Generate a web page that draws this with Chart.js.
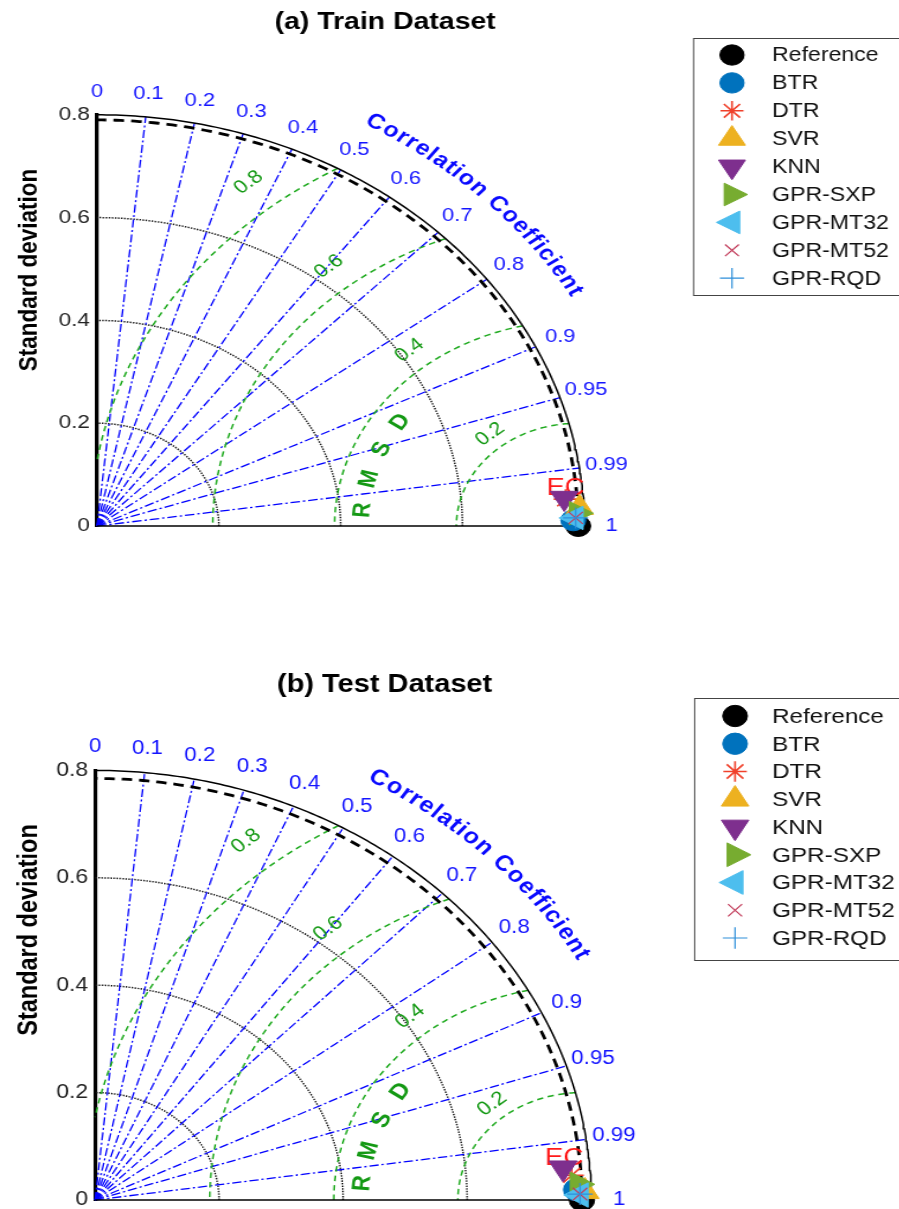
<!DOCTYPE html>
<html><head><meta charset="utf-8">
<script src="https://cdn.jsdelivr.net/npm/chart.js"></script>
<style>
html,body{margin:0;padding:0;background:#fff;overflow:hidden;width:899px;height:1209px;}
.panel{position:absolute;left:0;transform-origin:0 0;}
canvas{display:block;}
</style></head><body>
<div id="p1" class="panel" style="top:0px"><canvas id="c1"></canvas></div>
<div id="p2" class="panel" style="top:640px"><canvas id="c2"></canvas></div>
<script>
// ---------------- data ----------------
const modelNames = ['BTR','DTR','SVR','KNN','GPR-SXP','GPR-MT32','GPR-MT52','GPR-RQD'];
const trainRefStd = 0.79;
const trainStd  = [0.782, 0.771, 0.793, 0.769, 0.789, 0.785, 0.786, 0.786];
const trainCorr = [0.9999, 0.9977, 0.9990, 0.9975, 0.9995, 0.9998, 0.9998, 0.9998];
const testRefStd = 0.785;
const testStd  = [0.776, 0.770, 0.790, 0.757, 0.780, 0.782, 0.782, 0.782];
const testCorr = [0.9997, 0.9982, 0.9998, 0.9969, 0.9993, 0.99993, 0.9999, 0.9999];
const corrTicks = [0, 0.1, 0.2, 0.3, 0.4, 0.5, 0.6, 0.7, 0.8, 0.9, 0.95, 0.99, 1];
const stdTicks = [0, 0.2, 0.4, 0.6, 0.8];
const stdGridArcs = [0.2, 0.4, 0.6];
const rmsdTicks = [0.2, 0.4, 0.6, 0.8];
const stdMax = 0.8;

// ---------------- styles ----------------
const FONT = "'Liberation Sans', Arial, Helvetica, sans-serif";
const refStyle = {pointStyle:'circle', rotation:0, radius:10.5, bg:'#000000', border:'#000000', bw:1};
const modelStyles = [
  {pointStyle:'circle',   rotation:0,   radius:10.5, bg:'#0072BD', border:'#0072BD', bw:1},
  {pointStyle:'star',     rotation:0,   radius:10, bg:'rgba(0,0,0,0)', border:'#F0402A', bw:1.6},
  {pointStyle:'triangle', rotation:0,   radius:13.5, bg:'#EDB120', border:'#EDB120', bw:1},
  {pointStyle:'triangle', rotation:180, radius:13.5, bg:'#7E2F8E', border:'#7E2F8E', bw:1},
  {pointStyle:'triangle', rotation:90,  radius:13.5, bg:'#77AC30', border:'#77AC30', bw:1},
  {pointStyle:'triangle', rotation:270, radius:13.5, bg:'#4DBEEE', border:'#4DBEEE', bw:1},
  {pointStyle:'crossRot', rotation:0,   radius:8.5,  bg:'rgba(0,0,0,0)', border:'#C23B5A', bw:1.2},
  {pointStyle:'cross',    rotation:0,   radius:10.5, bg:'rgba(0,0,0,0)', border:'#2E8FDA', bw:1.2}
];
const modelOrder = [8, 7, 5, 6, 4, 3, 2, 1];

const DEG = Math.PI / 180;
function polar(r, deg) { return {x: r * Math.cos(deg * DEG), y: r * Math.sin(deg * DEG)}; }
function arcPts(cx, r, a0, a1, n) {
  const pts = [];
  for (let i = 0; i <= n; i++) {
    const a = a0 + (a1 - a0) * i / n;
    pts.push({x: cx + r * Math.cos(a * DEG), y: r * Math.sin(a * DEG)});
  }
  return pts;
}
function lineDs(pts, o) {
  return {data: pts, showLine: true, pointRadius: 0, pointHoverRadius: 0, borderColor: o.color,
          borderWidth: o.width, borderDash: o.dash, fill: false, tension: 0, order: o.order, clip: false, label: '_grid'};
}

function buildDatasets(refStd, stds, corrs, fs) {
  const ds = [];
  stdGridArcs.forEach(r => ds.push(lineDs(arcPts(0, r, 0, 90, 120), {color:'#1a1a1a', width:1.5, dash:[1.4,1.2], order:110})));
  corrTicks.filter(c => c > 0 && c < 1).forEach(c => {
    const a = Math.acos(c) / DEG;
    ds.push(lineDs([{x:0, y:0}, polar(stdMax, a)], {color:'#0000ff', width:1.3, dash:[8,2.5,2,2.5], order:109}));
  });
  rmsdTicks.forEach(R => {
    const xi = (stdMax * stdMax - R * R + refStd * refStd) / (2 * refStd);
    const a0 = Math.acos(Math.max(-1, Math.min(1, (xi - refStd) / R))) / DEG;
    const a1 = R > refStd ? Math.acos(-refStd / R) / DEG : 180;
    ds.push(lineDs(arcPts(refStd, R, a0, a1, 100), {color:'#1faa1f', width:1.5, dash:[5.5,4], order:108}));
  });
  ds.push(lineDs(arcPts(0, stdMax, 0, 90, 160), {color:'#000000', width:1.5, dash:[], order:106}));
  ds.push(lineDs(arcPts(0, refStd, 0, 90, 160), {color:'#000000', width:2.8, dash:[9,6], order:105}));
  ds.push(lineDs([{x:0, y:0}, {x:stdMax, y:0}], {color:'#000000', width:1.6, dash:[], order:104}));
  // reference point
  ds.push({label:'Reference', data:[{x:refStd, y:0}], showLine:false, pointStyle:refStyle.pointStyle,
           pointRadius:refStyle.radius*fs, pointRotation:0, backgroundColor:refStyle.bg, borderColor:refStyle.border,
           borderWidth:refStyle.bw, order:9, clip:false});
  modelNames.forEach((name, i) => {
    const st = modelStyles[i];
    const c = corrs[i], s = stds[i];
    ds.push({label:name, data:[{x: s * c, y: s * Math.sqrt(1 - c * c)}], showLine:false,
             pointStyle: st.pointStyle, pointRadius: st.radius*fs, pointRotation: st.rotation,
             backgroundColor: st.bg, borderColor: st.border, borderWidth: st.bw, order: modelOrder[i], clip:false});
  });
  return ds;
}

function drawMarker(ctx, st, x, y, fs) {
  ctx.save();
  ctx.fillStyle = st.bg; ctx.strokeStyle = st.border; ctx.lineWidth = st.bw;
  const H = (window.Chart && Chart.helpers) ? Chart.helpers : null;
  if (H && H.drawPoint) {
    H.drawPoint(ctx, {pointStyle: st.pointStyle, radius: st.radius*fs, rotation: st.rotation, borderWidth: st.bw}, x, y);
  } else {
    ctx.beginPath(); ctx.arc(x, y, st.radius*fs, 0, 2*Math.PI); ctx.fill(); ctx.stroke();
  }
  ctx.restore();
}

function decorPlugin(p) {
  return {
    id: 'decor_' + p.canvas,
    beforeDatasetDraw(chart, args) {
      const ds = chart.data.datasets[args.index];
      if (ds.label === 'KNN') {
        const el = args.meta.data[0];
        const ctx = chart.ctx;
        ctx.save();
        ctx.fillStyle = '#ff1a1a';
        ctx.font = (23*p.fs) + 'px ' + FONT;
        ctx.textAlign = 'left'; ctx.textBaseline = 'middle';
        ctx.fillText('EC', el.x - 15*p.fs, el.y - 9*p.fs);
        ctx.restore();
      }
    },
    afterDraw(chart) {
      const ctx = chart.ctx, xs = chart.scales.x, ys = chart.scales.y;
      const P = (x, y) => ({x: xs.getPixelForValue(x), y: ys.getPixelForValue(y)});
      const fs = p.fs;
      ctx.save();
      // title
      ctx.fillStyle = '#000';
      ctx.font = 'bold ' + (24*fs) + 'px ' + FONT;
      ctx.textAlign = 'center'; ctx.textBaseline = 'middle';
      ctx.fillText(p.title, p.titleX, p.titleY);
      // y title
      ctx.save();
      ctx.translate(p.yTitleX, p.yTitleY); ctx.rotate(-Math.PI/2);
      ctx.font = 'bold ' + (22.5*fs) + 'px ' + FONT;
      ctx.fillText('Standard deviation', 0, 0);
      ctx.restore();
      // correlation tick labels
      ctx.fillStyle = '#1414ff';
      ctx.font = (18.5*fs) + 'px ' + FONT;
      corrTicks.forEach(c => {
        const q = polar(0.845, Math.acos(c) / DEG);
        const pt = P(q.x, q.y);
        ctx.fillText(String(c), pt.x, pt.y);
      });
      // curved "Correlation Coefficient"
      const txt = 'Correlation Coefficient';
      ctx.font = 'bold ' + (21*fs) + 'px ' + FONT;
      ctx.fillStyle = '#0a0aff';
      const ws = [...txt].map(ch => ctx.measureText(ch).width);
      const cents = []; let acc = 0;
      ws.forEach(w => { cents.push(acc + w/2); acc += w; });
      const c0 = cents[0], c1 = cents[cents.length-1];
      const th0 = 59.8, th1 = 30.2;
      [...txt].forEach((ch, i) => {
        const th = th0 - (th0 - th1) * (cents[i] - c0) / (c1 - c0);
        const q = polar(0.908, th);
        const pt = P(q.x, q.y);
        ctx.save(); ctx.translate(pt.x, pt.y); ctx.rotate((90 - th) * DEG);
        ctx.fillText(ch, 0, 0); ctx.restore();
      });
      // RMSD value labels
      ctx.fillStyle = '#149914';
      ctx.font = (18.5*fs) + 'px ' + FONT;
      rmsdTicks.forEach(v => {
        const rl = v * 1.05 + 0.02, ph = 129;
        const pt = P(p.refStd + rl * Math.cos(ph*DEG), rl * Math.sin(ph*DEG));
        ctx.save(); ctx.translate(pt.x, pt.y); ctx.rotate((90 - ph) * DEG);
        ctx.fillText(String(v), 0, 0); ctx.restore();
      });
      // RMSD letters
      ctx.font = 'bold ' + (21*fs) + 'px ' + FONT;
      ['R','M','S','D'].forEach((ch, i) => {
        const ph = 175 - i * 9.9, rl = 0.355;
        const pt = P(p.refStd + rl * Math.cos(ph*DEG), rl * Math.sin(ph*DEG));
        ctx.save(); ctx.translate(pt.x, pt.y); ctx.rotate((90 - ph) * DEG);
        ctx.fillText(ch, 0, 0); ctx.restore();
      });
      // legend
      const L = p.legend;
      ctx.strokeStyle = '#444'; ctx.lineWidth = 1;
      ctx.fillStyle = '#fff';
      ctx.fillRect(L.left, L.top, chart.width - L.left + 20, L.bottom - L.top);
      ctx.strokeRect(L.left + 0.5, L.top + 0.5, chart.width - L.left + 20, L.bottom - L.top);
      const names = ['Reference'].concat(modelNames);
      const styles = [refStyle].concat(modelStyles);
      names.forEach((n, i) => {
        const y = L.y0 + i * L.dy;
        drawMarker(ctx, styles[i], L.mx, y, fs * 0.97);
        ctx.fillStyle = '#111';
        ctx.font = L.font + 'px ' + FONT;
        ctx.textAlign = 'left'; ctx.textBaseline = 'middle';
        ctx.fillText(n, L.tx, y + 1);
      });
      ctx.restore();
    }
  };
}

const panels = [
  {canvas:'c1', wrap:'p1', k:1.185, H:600, originXPage:97, originY:526, s:514,
   refStd:trainRefStd, stds:trainStd, corrs:trainCorr, title:'(a) Train Dataset',
   titleX:325, titleY:22, yTitleX:25, yTitleY:270, fs:1,
   legend:{left:584.8, mx:617.7, tx:651.5, top:38, bottom:295, y0:55, dy:27.9, font:19.5}},
  {canvas:'c2', wrap:'p2', k:1.155, H:600, originXPage:95, originY:560, s:537,
   refStd:testRefStd, stds:testStd, corrs:testCorr, title:'(b) Test Dataset',
   titleX:333, titleY:45, yTitleX:26, yTitleY:290, fs:1.045,
   legend:{left:600.9, mx:636.4, tx:668.4, top:58, bottom:320, y0:76, dy:27.75, font:21}}
];

panels.forEach(p => {
  const W0 = Math.ceil(899 / p.k);
  const cv = document.getElementById(p.canvas);
  cv.width = W0; cv.height = p.H;
  cv.style.width = W0 + 'px'; cv.style.height = p.H + 'px';
  document.getElementById(p.wrap).style.transform = 'scaleX(' + p.k + ')';
  const originX = p.originXPage / p.k;
  const xMax = 1.0;
  const pad = {left: 0, top: p.originY - p.s * stdMax, bottom: p.H - p.originY, right: W0 - originX - p.s * xMax};
  new Chart(cv.getContext('2d'), {
    type: 'scatter',
    data: {datasets: buildDatasets(p.refStd, p.stds, p.corrs, p.fs)},
    options: {
      responsive: false, animation: false, devicePixelRatio: 1, events: [],
      layout: {padding: pad},
      plugins: {legend: {display: false}, title: {display: false}, tooltip: {enabled: false}},
      scales: {
        x: {type: 'linear', display: false, min: 0, max: xMax},
        y: {type: 'linear', min: 0, max: stdMax,
            afterFit: s => { s.width = originX; },
            afterBuildTicks: s => { s.ticks = stdTicks.map(v => ({value: v})); },
            grid: {display: false, drawTicks: false},
            border: {display: true, color: '#000', width: 3.2},
            ticks: {padding: 6, color: '#222', font: {family: FONT, size: 19*p.fs}, callback: v => String(v)}}
      }
    },
    plugins: [decorPlugin(p)]
  });
});
</script>
</body></html>
